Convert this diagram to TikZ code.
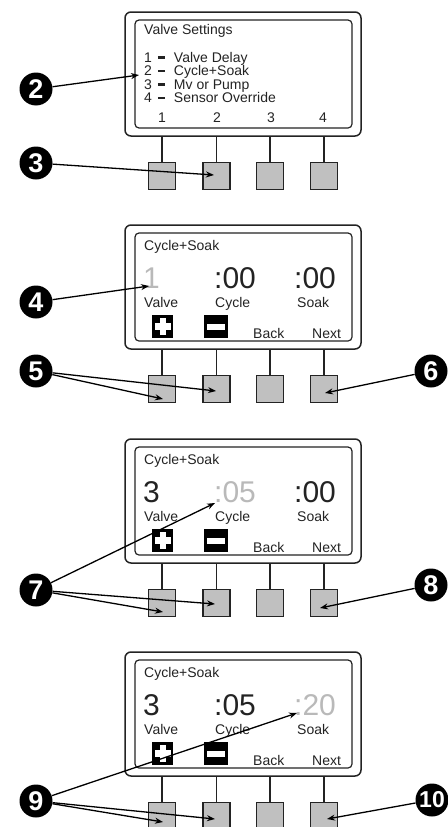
\documentclass[tikz,border=0pt]{standalone}
\usepackage{fontspec}
\setmainfont{Liberation Sans}
\usetikzlibrary{arrows.meta}
\definecolor{btngrey}{RGB}{192,192,192}
\definecolor{hilite}{RGB}{185,185,185}
\definecolor{ink}{RGB}{35,35,35}
\newcommand{\mdash}{\hspace{6pt}\raisebox{3.5pt}{\rule{7pt}{2.2pt}}\hspace{9pt}}
\begin{document}
\begin{tikzpicture}[x=1pt,y=-1pt,
  outerbox/.style={draw=ink, line width=1.5pt, rounded corners=6pt, minimum width=236pt, minimum height=124pt, inner sep=0},
  innerbox/.style={draw=ink, line width=1.2pt, rounded corners=4pt, minimum width=217pt, minimum height=108pt, inner sep=0},
  btn/.style={draw=ink, line width=1.1pt, fill=btngrey, minimum width=27pt, minimum height=27pt, inner sep=0},
  stem/.style={draw=ink, line width=1.1pt},
  txt/.style={anchor=base west, inner sep=0, text=ink, font=\fontsize{14}{16}\selectfont},
  ctxt/.style={txt, anchor=base},
  big/.style={anchor=base west, inner sep=0, text=ink, font=\fontsize{30}{32}\selectfont},
  icon/.style={fill=black, minimum width=21pt, minimum height=23pt, inner sep=0},
  callout/.style={circle, fill=black, minimum size=33pt, inner sep=0, text=white, font=\bfseries\fontsize{27}{27}\selectfont},
  arr/.style={-{Stealth[length=8pt,width=6pt]}, line width=1.3pt, draw=black}
]
\useasboundingbox (0,0) rectangle (447,827);
% ---- four panels ----
\foreach \i/\dy in {1/0,2/213,3/427,4/640}{
  \begin{scope}[shift={(0,\dy)}]
    \node[outerbox] (f\i) at (243,74) {};
    \node[innerbox] (s\i) at (243.5,74) {};
    \foreach \j/\x in {1/162,2/216.5,3/270,4/324}{
      \node[btn] (b\i\j) at (\x,176) {};
      \draw[stem] (b\i\j.north) -- (b\i\j.north |- f\i.south);
    }
  \end{scope}
}
% ---- panel 1 texts ----
\node[txt] (title1) at (144,34) {Valve Settings};
\node[txt] (m1) at (144,62) {1\mdash Valve Delay};
\node[txt] (m2) at (144,75.5) {2\mdash Cycle+Soak};
\node[txt] (m3) at (144,89) {3\mdash Mv or Pump};
\node[txt] (m4) at (144,102.5) {4\mdash Sensor Override};
\node[ctxt] (n1) at (162,122.5) {1};
\node[ctxt] (n2) at (217,122.5) {2};
\node[ctxt] (n3) at (271,122.5) {3};
\node[ctxt] (n4) at (323,122.5) {4};
% ---- panels 2-4 texts ----
\foreach \i/\dy/\va/\vb/\vc/\ca/\cb/\cc in {2/213/1/:00/:00/hilite/ink/ink, 3/427/3/:05/:00/ink/hilite/ink, 4/640/3/:05/:20/ink/ink/hilite}{
  \begin{scope}[shift={(0,\dy)}]
    \node[txt] (title\i) at (144,37.5) {Cycle+Soak};
    \node[big, text=\ca] (va\i) at (143,75) {\va};
    \node[big, text=\cb] (vb\i) at (214,75) {\vb};
    \node[big, text=\cc] (vc\i) at (294,75) {\vc};
    \node[txt] (la\i) at (144,94) {Valve};
    \node[txt] (lb\i) at (215,94) {Cycle};
    \node[txt] (lc\i) at (297,94) {Soak};
    \node[icon] (plus\i) at (162.5,113.5) {};
    \fill[white] (154.5,110) rectangle (170.5,117);
    \fill[white] (159.5,105) rectangle (165.5,122);
    \node[icon, minimum width=24pt] (minus\i) at (216,113.5) {};
    \fill[white] (207,110.5) rectangle (225,116.5);
    \node[txt] (back\i) at (253,125) {Back};
    \node[txt] (next\i) at (312,125) {Next};
  \end{scope}
}
% ---- callouts ----
\node[callout] (c2) at (36,89) {2};
\node[callout] (c3) at (36,163) {3};
\node[callout] (c4) at (36,302) {4};
\node[callout] (c5) at (36,371) {5};
\node[callout] (c6) at (431,371) {6};
\node[callout] (c7) at (36,590) {7};
\node[callout] (c8) at (431,585) {8};
\node[callout, font=\bfseries\fontsize{23}{23}\selectfont] (c10) at (432,800) {10};
\node[callout] (c9) at (36,801) {9};
% ---- arrow tips ----
\coordinate (t2) at (139,75);
\coordinate (t3) at (214,175);
\coordinate (t4) at (149,286);
\coordinate (t5a) at (163,399);
\coordinate (t5b) at (216,391);
\coordinate (t6) at (325,393);
\coordinate (t7a) at (215,503);
\coordinate (t7b) at (163,612);
\coordinate (t7c) at (215,604);
\coordinate (t8) at (320,608);
\coordinate (t9a) at (297,713);
\coordinate (t9b) at (163,822);
\coordinate (t9c) at (215,819);
\coordinate (t10) at (327,819);
% ---- arrows ----
\draw[arr] (c2) -- (t2);
\draw[arr] (c3) -- (t3);
\draw[arr] (c4) -- (t4);
\draw[arr] (c5) -- (t5a);
\draw[arr] (c5) -- (t5b);
\draw[arr] (c6) -- (t6);
\draw[arr] (c7) -- (t7a);
\draw[arr] (c7) -- (t7b);
\draw[arr] (c7) -- (t7c);
\draw[arr] (c8) -- (t8);
\draw[arr] (c9) -- (t9a);
\draw[arr] (c9) -- (t9b);
\draw[arr] (c9) -- (t9c);
\draw[arr] (c10) -- (t10);
\end{tikzpicture}
\end{document}
